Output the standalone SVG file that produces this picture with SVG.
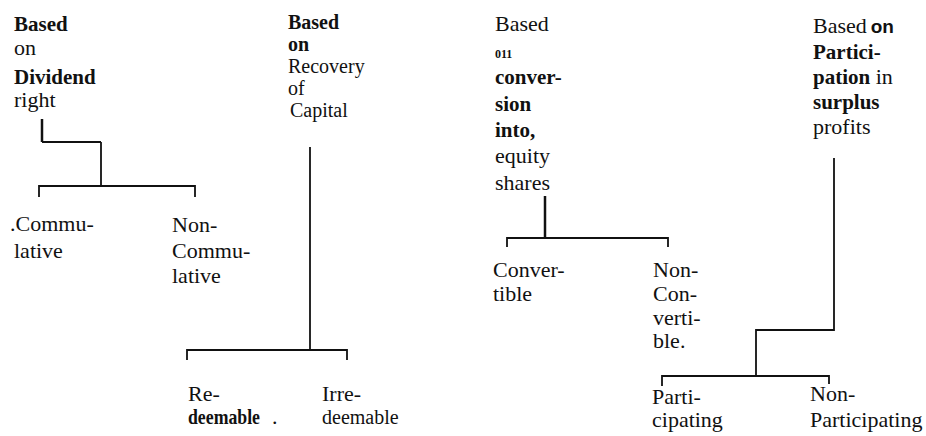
<svg xmlns="http://www.w3.org/2000/svg" width="926" height="436" viewBox="0 0 926 436">
<style>
text{font-family:"Liberation Serif","Times New Roman",serif;font-size:22px;fill:#111}
.b{font-weight:bold;font-size:21px}
.r{font-size:20px}
.s{font-family:"Liberation Sans",Arial,sans-serif;font-weight:bold;font-size:19px}
.sm{font-size:12px;font-weight:bold}
.c{fill:none;stroke:#111;stroke-width:1.8}
.t{fill:none;stroke:#111;stroke-width:2.5}
</style>
<rect width="926" height="436" fill="#fff"/>
<g id="connectors">
<path class="t" d="M42,119 V142"/>
<path class="c" d="M42,142 H101 M101,142 V186"/>
<path class="c" d="M39,197 V186 H195 V197"/>
<path class="c" d="M310,147 V350"/>
<path class="c" d="M187,360 V350 H347 V360"/>
<path class="t" d="M545,196 V238"/>
<path class="c" d="M507,247 V238 H668 V247"/>
<path class="c" d="M834,158 V330 H756 V376"/>
<path class="c" d="M662,386 V376 H829 V384"/>
</g>
<g id="dividend">
<text x="14" y="31" class="b">Based</text>
<text x="14" y="55">on</text>
<text x="14" y="84" class="b">Dividend</text>
<text x="14" y="107">right</text>
</g>
<g id="commulative">
<text x="10" y="231">.Commu-</text>
<text x="14" y="258">lative</text>
</g>
<g id="non-commulative">
<text x="172" y="232">Non-</text>
<text x="172" y="258">Commu-</text>
<text x="172" y="283">lative</text>
</g>
<g id="recovery">
<text x="288" y="29" class="b r">Based</text>
<text x="288" y="51" class="b r">on</text>
<text x="288" y="73" class="r">Recovery</text>
<text x="288" y="95" class="r">of</text>
<text x="290" y="117" class="r">Capital</text>
</g>
<g id="redeemable">
<text x="188" y="401">Re-</text>
<text x="188" y="424" class="b" textLength="72" lengthAdjust="spacingAndGlyphs">deemable</text>
<text x="272" y="424">.</text>
</g>
<g id="irredeemable">
<text x="322" y="401">Irre-</text>
<text x="322" y="424" class="r">deemable</text>
</g>
<g id="conversion">
<text x="495" y="31">Based</text>
<text x="495" y="58" class="sm">011</text>
<text x="495" y="84" class="b">conver-</text>
<text x="495" y="111" class="b">sion</text>
<text x="495" y="137" class="b">into,</text>
<text x="495" y="163">equity</text>
<text x="495" y="190">shares</text>
</g>
<g id="convertible">
<text x="493" y="277">Conver-</text>
<text x="493" y="301">tible</text>
</g>
<g id="non-convertible">
<text x="653" y="277">Non-</text>
<text x="653" y="301">Con-</text>
<text x="653" y="325">verti-</text>
<text x="653" y="348">ble.</text>
</g>
<g id="participation">
<text x="813" y="33">Based<tspan class="s" dx="4">on</tspan></text>
<text x="813" y="59" class="b">Partici-</text>
<text x="813" y="84"><tspan class="b">pation</tspan> in</text>
<text x="813" y="109" class="b">surplus</text>
<text x="813" y="134">profits</text>
</g>
<g id="participating">
<text x="652" y="404">Parti-</text>
<text x="652" y="427">cipating</text>
</g>
<g id="non-participating">
<text x="810" y="401">Non-</text>
<text x="810" y="427">Participating</text>
</g>
</svg>
